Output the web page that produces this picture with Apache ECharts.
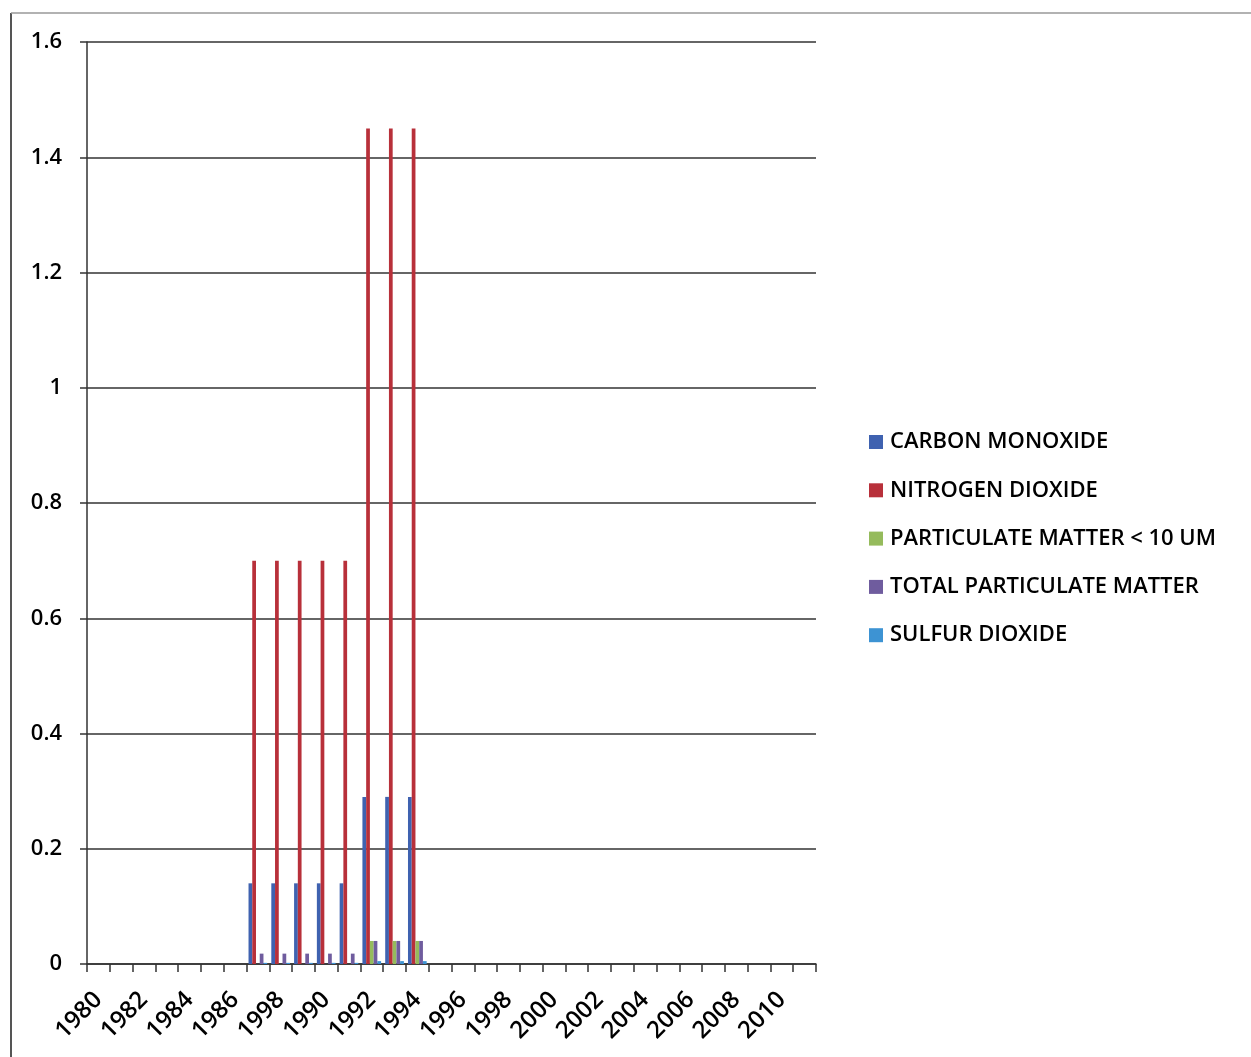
<!DOCTYPE html>
<html>
<head>
<meta charset="utf-8">
<script src="https://cdn.jsdelivr.net/npm/echarts@6/dist/echarts.min.js"></script>
<style>
  html, body { margin: 0; padding: 0; background: #fff; }
  #chart { width: 1251px; height: 1057px; }
</style>
</head>
<body>
<div id="chart"></div>
<script>
// years on the category axis (the scan prints "1998" where 1988 should be)
const years = ['1980', '1981', '1982', '1983', '1984', '1985', '1986', '1987',
    '1998', '1989', '1990', '1991', '1992', '1993', '1994', '1995',
    '1996', '1997', '1998', '1999', '2000', '2001', '2002', '2003',
    '2004', '2005', '2006', '2007', '2008', '2009', '2010', '2011'];

const seriesNames = ['CARBON MONOXIDE', 'NITROGEN DIOXIDE', 'PARTICULATE MATTER < 10 UM',
    'TOTAL PARTICULATE MATTER', 'SULFUR DIOXIDE'];

const carbonMonoxide = [null, null, null, null, null, null, null, 0.14,
    0.14, 0.14, 0.14, 0.14, 0.29, 0.29, 0.29, null,
    null, null, null, null, null, null, null, null,
    null, null, null, null, null, null, null, null];
const nitrogenDioxide = [null, null, null, null, null, null, null, 0.70,
    0.70, 0.70, 0.70, 0.70, 1.45, 1.45, 1.45, null,
    null, null, null, null, null, null, null, null,
    null, null, null, null, null, null, null, null];
const pm10 = [null, null, null, null, null, null, null, 0,
    0, 0, 0, 0, 0.04, 0.04, 0.04, null,
    null, null, null, null, null, null, null, null,
    null, null, null, null, null, null, null, null];
const totalPm = [null, null, null, null, null, null, null, 0.018,
    0.018, 0.018, 0.018, 0.018, 0.04, 0.04, 0.04, null,
    null, null, null, null, null, null, null, null,
    null, null, null, null, null, null, null, null];
const sulfurDioxide = [null, null, null, null, null, null, null, 0.002,
    0.002, 0.002, 0.002, 0.002, 0.005, 0.005, 0.005, null,
    null, null, null, null, null, null, null, null,
    null, null, null, null, null, null, null, null];

const colors = ['#3f62b0', '#b8303a', '#95bb5c', '#6f5c9e', '#3d93d3'];
const FONT = 'Open Sans';

const chart = echarts.init(document.getElementById('chart'));

const options = {
    animation: false,
    color: colors,
    textStyle: { fontFamily: FONT },
    grid: {
        left: 87,
        right: 435,
        top: 42,
        bottom: 93,
        containLabel: false
    },
    graphic: [
        // scanned frame round the chart area
        { type: 'line', shape: { x1: 11, y1: 13, x2: 11, y2: 1057 }, style: { stroke: '#555', lineWidth: 2 } },
        { type: 'line', shape: { x1: 11, y1: 13, x2: 1251, y2: 13 }, style: { stroke: '#999', lineWidth: 1.5 } }
    ],
    legend: {
        orient: 'vertical',
        left: 869,
        top: 431,
        padding: 0,
        icon: 'rect',
        itemWidth: 14,
        itemHeight: 14,
        itemGap: 26.3,
        textStyle: {
            fontFamily: FONT,
            fontSize: 22,
            fontWeight: 600,
            color: '#000',
            padding: [0, 0, 0, 2]
        },
        data: seriesNames
    },
    xAxis: {
        type: 'category',
        data: years,
        boundaryGap: true,
        axisLine: { lineStyle: { color: '#333', width: 1.5 } },
        axisTick: {
            show: true,
            interval: 0,
            length: 8,
            lineStyle: { color: '#333', width: 1.5 }
        },
        axisLabel: {
            interval: 1,
            rotate: 45,
            margin: 32,
            fontFamily: FONT,
            fontSize: 24,
            fontWeight: 600,
            color: '#000'
        }
    },
    yAxis: {
        type: 'value',
        min: 0,
        max: 1.6,
        interval: 0.2,
        axisLine: { show: true, lineStyle: { color: '#333', width: 1.5 } },
        axisTick: { show: true, length: 7, lineStyle: { color: '#333', width: 1.5 } },
        axisLabel: {
            margin: 25,
            fontFamily: FONT,
            fontSize: 22,
            fontWeight: 600,
            color: '#000',
            formatter: function (val) {
                return String(Math.round(val * 10) / 10);
            }
        },
        splitLine: { lineStyle: { color: '#333', width: 1.5 } }
    },
    series: []
};

const seriesData = [carbonMonoxide, nitrogenDioxide, pm10, totalPm, sulfurDioxide];
for (let i = 0; i < seriesData.length; i++) {
    options.series.push({
        name: seriesNames[i],
        type: 'bar',
        barGap: '0%',
        barCategoryGap: '18%',
        data: seriesData[i]
    });
}

chart.setOption(options);
</script>
</body>
</html>
